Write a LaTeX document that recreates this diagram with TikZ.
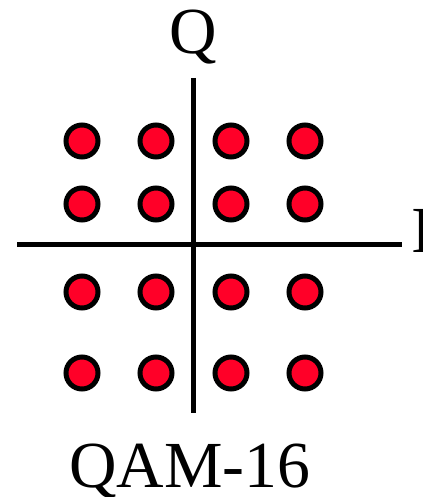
\documentclass[tikz,border=0pt]{standalone}
\usepackage{fontspec}
\setmainfont{Liberation Serif}
\definecolor{dotred}{RGB}{255,0,40}
\begin{document}
\begin{tikzpicture}[x=1bp,y=-1bp,
  axis/.style={line width=5bp,black},
  pt/.style={circle,draw=black,line width=5bp,fill=dotred,minimum size=32bp,inner sep=0pt},
  lbl/.style={font=\fontsize{66}{70}\selectfont,inner sep=0pt}]
\useasboundingbox (0,0) rectangle (422,497);
\coordinate (vt) at (193.5,78);
\coordinate (vb) at (193.5,413);
\coordinate (hl) at (17,244);
\coordinate (hr) at (402,244);
\draw[axis] (vt) -- (vb);
\draw[axis] (hl) -- (hr);
\foreach \x/\i in {82/1,156/2,231/3,305/4}{
  \foreach \y/\j in {141/1,204/2,292/3,373/4}{
    \node[pt] (p\i\j) at (\x,\y) {};
  }
}
\node[lbl,anchor=base] (q) at (193.5,54) {Q};
\node[lbl,anchor=base west] (i) at (411,252) {I};
\node[lbl,anchor=base] (title) at (190,487) {QAM-16};
\end{tikzpicture}
\end{document}
